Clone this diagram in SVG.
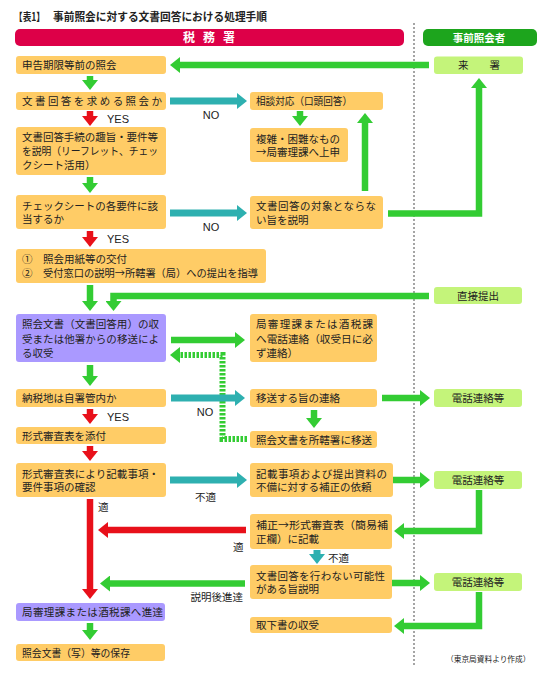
<svg xmlns="http://www.w3.org/2000/svg" width="550" height="677" viewBox="0 0 550 677">
<style>
text{font-family:"Noto Sans CJK JP","Noto Sans CJK SC",sans-serif;font-size:10.5px;fill:#222}
.b{fill:#FFCC66}
.p{fill:#AA99FF}
.lg{fill:#C4F47A}
.lat{font-family:"Liberation Sans",Arial,sans-serif;font-size:11px}
.hd{fill:#fff;font-weight:bold}
.g{stroke:#33CC33;stroke-width:6.5;fill:none}
.r{stroke:#E8101A;stroke-width:6.5;fill:none}
.t{stroke:#2EB0B0;stroke-width:7;fill:none}
.gd{stroke:#33CC33;stroke-width:6;fill:none;stroke-dasharray:2.5 1.5}
.m{text-anchor:middle}
.tt{font-weight:bold;font-size:11px}
.ft{font-size:7.7px}
</style>
<defs>
<marker id="ag" markerUnits="userSpaceOnUse" markerWidth="10" markerHeight="16" viewBox="0 0 10 16" refX="0" refY="8" orient="auto"><path d="M0,0L10,8L0,16z" fill="#33CC33"/></marker>
<marker id="ar" markerUnits="userSpaceOnUse" markerWidth="10" markerHeight="16" viewBox="0 0 10 16" refX="0" refY="8" orient="auto"><path d="M0,0L10,8L0,16z" fill="#E8101A"/></marker>
<marker id="at" markerUnits="userSpaceOnUse" markerWidth="10" markerHeight="16" viewBox="0 0 10 16" refX="0" refY="8" orient="auto"><path d="M0,0L10,8L0,16z" fill="#2EB0B0"/></marker>
</defs>
<rect width="550" height="677" fill="#fff"/>
<g id="title">
<text class="tt" x="14" y="21" textLength="31" lengthAdjust="spacingAndGlyphs">【表1】</text>
<text class="tt" x="53" y="21" textLength="214" lengthAdjust="spacingAndGlyphs">事前照会に対する文書回答における処理手順</text>
</g>
<g id="header-zeimusho"><rect x="15" y="29" width="389" height="17" rx="5" fill="#DD0048"/><text class="hd" x="183" y="41.5" style="font-size:12px" textLength="52">税　務　署</text></g>
<g id="header-shokaisha"><rect x="423" y="29" width="114" height="17" rx="5" fill="#1DA51D"/><text class="hd m" x="479" y="41.5">事前照会者</text></g>
<line x1="414" y1="23" x2="414" y2="665" stroke="#888" stroke-width="1.5" stroke-dasharray="2 2"/>
<g id="connectors">
<line class="g" x1="429" y1="65" x2="180" y2="65" marker-end="url(#ag)"/>
<line class="g" x1="90" y1="76" x2="90" y2="80" marker-end="url(#ag)"/>
<line class="r" x1="90" y1="111" x2="90" y2="116" marker-end="url(#ar)"/>
<line class="t" x1="170" y1="101" x2="237" y2="101" marker-end="url(#at)"/>
<line class="g" x1="300" y1="111" x2="300" y2="116" marker-end="url(#ag)"/>
<line class="g" x1="90" y1="177" x2="90" y2="183" marker-end="url(#ag)"/>
<line class="t" x1="170" y1="213" x2="237" y2="213" marker-end="url(#at)"/>
<line class="g" x1="365" y1="191" x2="365" y2="123" marker-end="url(#ag)"/>
<polyline class="g" points="388,213.5 479,213.5 479,88" marker-end="url(#ag)"/>
<line class="r" x1="90" y1="231" x2="90" y2="237" marker-end="url(#ar)"/>
<line class="g" x1="90" y1="285" x2="90" y2="301" marker-end="url(#ag)"/>
<polyline class="g" points="429,296 113.5,296 113.5,301" marker-end="url(#ag)"/>
<line class="g" x1="171" y1="340" x2="235" y2="340" marker-end="url(#ag)"/>
<polyline class="gd" points="247,439 222.5,439 222.5,355 180,355" marker-end="url(#ag)"/>
<line class="g" x1="90" y1="365" x2="90" y2="376" marker-end="url(#ag)"/>
<line class="t" x1="171" y1="398" x2="235" y2="398" marker-end="url(#at)"/>
<line class="g" x1="382" y1="398" x2="420" y2="398" marker-end="url(#ag)"/>
<line class="g" x1="314" y1="410" x2="314" y2="418" marker-end="url(#ag)"/>
<line class="r" x1="90" y1="409" x2="90" y2="414" marker-end="url(#ar)"/>
<line class="r" x1="90" y1="446" x2="90" y2="451" marker-end="url(#ar)"/>
<line class="t" x1="170" y1="480" x2="237" y2="480" marker-end="url(#at)"/>
<line class="g" x1="382" y1="480" x2="420" y2="480" marker-end="url(#ag)"/>
<polyline class="g" points="479,490 479,531 404,531" marker-end="url(#ag)"/>
<line class="r" x1="90" y1="499" x2="90" y2="589" marker-end="url(#ar)"/>
<line class="r" x1="246" y1="530" x2="108" y2="530" marker-end="url(#ar)"/>
<line class="t" x1="317" y1="550" x2="317" y2="554" marker-end="url(#at)"/>
<line class="g" x1="245" y1="583.5" x2="110" y2="583.5" marker-end="url(#ag)"/>
<line class="g" x1="382" y1="583" x2="420" y2="583" marker-end="url(#ag)"/>
<polyline class="g" points="479,592 479,626 404,626" marker-end="url(#ag)"/>
<line class="g" x1="90" y1="623" x2="90" y2="630" marker-end="url(#ag)"/>
</g>
<g id="labels">
<text class="lat" x="107" y="123">YES</text>
<text class="lat m" x="211" y="119">NO</text>
<text class="lat m" x="211" y="231">NO</text>
<text class="lat" x="107" y="243">YES</text>
<text class="lat m" x="205" y="416">NO</text>
<text class="lat" x="107" y="421">YES</text>
<text x="195" y="501">不適</text>
<text x="98" y="511">適</text>
<text x="233" y="551">適</text>
<text x="328" y="562">不適</text>
<text x="243" y="601" text-anchor="end">説明後進達</text>
</g>
<g id="n1"><rect class="b" x="16" y="56" width="150" height="18" rx="3"/><text x="22" y="69">申告期限等前の照会</text></g>
<g id="n2"><rect class="b" x="16" y="92" width="150" height="18" rx="3"/><text x="22" y="105" textLength="140">文書回答を求める照会か</text></g>
<g id="n3"><rect class="b" x="16" y="127" width="150" height="48" rx="3"/><text x="22" y="141" textLength="136">文書回答手続の趣旨・要件等</text><text x="22" y="155" textLength="136" lengthAdjust="spacingAndGlyphs">を説明（リーフレット、チェッ</text><text x="22" y="169">クシート活用）</text></g>
<g id="n4"><rect class="b" x="16" y="195" width="150" height="34" rx="3"/><text x="22" y="209.5" textLength="136">チェックシートの各要件に該</text><text x="22" y="223">当するか</text></g>
<g id="n5"><rect class="b" x="16" y="249" width="250" height="34" rx="3"/><text x="22" y="263">①</text><text x="43" y="263">照会用紙等の交付</text><text x="22" y="277">②</text><text x="43" y="277" textLength="215" lengthAdjust="spacingAndGlyphs">受付窓口の説明→所轄署（局）への提出を指導</text></g>
<g id="n6"><rect class="b" x="250" y="92" width="133" height="18" rx="3"/><text x="256" y="105" textLength="96" lengthAdjust="spacingAndGlyphs">相談対応（口頭回答）</text></g>
<g id="n7"><rect class="b" x="250" y="128" width="98" height="34" rx="3"/><text x="256" y="142.5">複雑・困難なもの</text><text x="256" y="156">→局審理課へ上申</text></g>
<g id="n8"><rect class="b" x="250" y="196" width="133" height="33" rx="3"/><text x="256" y="210" textLength="120">文書回答の対象とならな</text><text x="256" y="223.5">い旨を説明</text></g>
<g id="n-raisho"><rect class="lg" x="434" y="56.5" width="89" height="17.5" rx="3"/><text x="458" y="69" textLength="42">来　　署</text></g>
<g id="n-chokusetsu"><rect class="lg" x="434" y="287" width="88" height="17" rx="3"/><text class="m" x="478" y="299.5">直接提出</text></g>
<g id="n9"><rect class="p" x="16" y="314" width="150" height="48" rx="3"/><text x="22" y="328" textLength="137" lengthAdjust="spacingAndGlyphs">照会文書（文書回答用）の収</text><text x="22" y="342.5" textLength="137">受または他署からの移送によ</text><text x="22" y="357">る収受</text></g>
<g id="n10"><rect class="b" x="250" y="314" width="127" height="48" rx="3"/><text x="256" y="328" textLength="117">局審理課または酒税課</text><text x="256" y="342.5" textLength="117" lengthAdjust="spacingAndGlyphs">へ電話連絡（収受日に必</text><text x="256" y="357">ず連絡）</text></g>
<g id="n11"><rect class="b" x="16" y="389" width="150" height="18" rx="3"/><text x="22" y="402">納税地は自署管内か</text></g>
<g id="n12"><rect class="b" x="250" y="389" width="127" height="18" rx="3"/><text x="256" y="402">移送する旨の連絡</text></g>
<g id="n-tel1"><rect class="lg" x="434" y="389" width="88" height="18" rx="3"/><text class="m" x="478" y="402">電話連絡等</text></g>
<g id="n13"><rect class="b" x="250" y="431" width="127" height="17" rx="3"/><text x="256" y="443.5" textLength="116">照会文書を所轄署に移送</text></g>
<g id="n14"><rect class="b" x="16" y="427" width="150" height="17" rx="3"/><text x="22" y="439.5">形式審査表を添付</text></g>
<g id="n15"><rect class="b" x="16" y="463" width="150" height="34" rx="3"/><text x="22" y="477.5" textLength="137">形式審査表により記載事項・</text><text x="22" y="491">要件事項の確認</text></g>
<g id="n16"><rect class="b" x="250" y="463" width="143" height="34" rx="3"/><text x="256" y="477.5" textLength="131">記載事項および提出資料の</text><text x="256" y="491">不備に対する補正の依頼</text></g>
<g id="n-tel2"><rect class="lg" x="434" y="471" width="88" height="18" rx="3"/><text class="m" x="478" y="484">電話連絡等</text></g>
<g id="n17"><rect class="b" x="250" y="514" width="142" height="35" rx="3"/><text x="256" y="529" textLength="132" lengthAdjust="spacingAndGlyphs">補正→形式審査表（簡易補</text><text x="256" y="542.5">正欄）に記載</text></g>
<g id="n18"><rect class="b" x="250" y="565" width="142" height="34" rx="3"/><text x="256" y="579.5" textLength="129">文書回答を行わない可能性</text><text x="256" y="593">がある旨説明</text></g>
<g id="n-tel3"><rect class="lg" x="434" y="573" width="88" height="18" rx="3"/><text class="m" x="478" y="586">電話連絡等</text></g>
<g id="n19"><rect class="b" x="250" y="617" width="142" height="16" rx="3"/><text x="256" y="629">取下書の収受</text></g>
<g id="n20"><rect class="p" x="16" y="603" width="149" height="18" rx="3"/><text x="22" y="616" textLength="141">局審理課または酒税課へ進達</text></g>
<g id="n21"><rect class="b" x="16" y="644" width="149" height="17" rx="3"/><text x="22" y="656.5" textLength="108" lengthAdjust="spacingAndGlyphs">照会文書（写）等の保存</text></g>
<text class="ft" x="446" y="662">（東京局資料より作成）</text>
</svg>
